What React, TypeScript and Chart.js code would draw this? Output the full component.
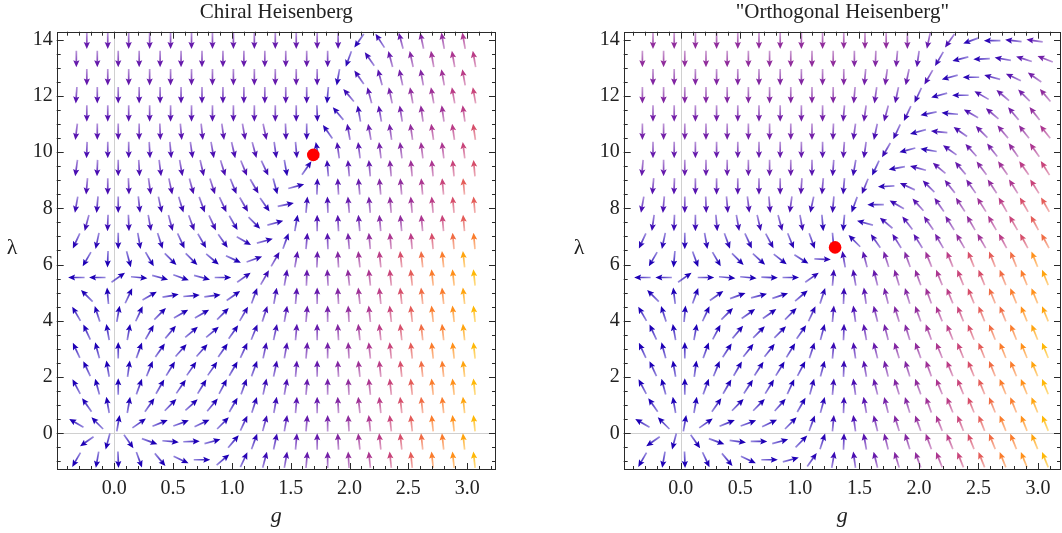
import { useEffect, useRef } from "react";
import { Chart, registerables } from "chart.js";

Chart.register(...registerables);

const SERIF = "'Liberation Serif', 'Times New Roman', Times, serif";

// ---- sample grid of the vector field (staggered rows) ----
const gGridA = [-0.233, -0.055, 0.123, 0.301, 0.479, 0.657, 0.835, 1.013, 1.191, 1.369, 1.547, 1.725, 1.903, 2.081, 2.259, 2.437, 2.615, 2.793, 2.971];
const gGridB = [-0.322, -0.144, 0.034, 0.212, 0.39, 0.568, 0.746, 0.924, 1.102, 1.28, 1.458, 1.636, 1.814, 1.992, 2.17, 2.348, 2.526, 2.704, 2.882, 3.06];
const lambdaRows = [13.96, 13.31, 12.66, 12.02, 11.37, 10.72, 10.07, 9.43, 8.78, 8.13, 7.48, 6.84, 6.19, 5.54, 4.89, 4.25, 3.6, 2.95, 2.3, 1.66, 1.01, 0.36, -0.29, -0.94];

// ---- axes ----
const gTicks = [0, 0.5, 1, 1.5, 2, 2.5, 3];
const gTickLabels = ["0.0", "0.5", "1.0", "1.5", "2.0", "2.5", "3.0"];
const lambdaTicks = [0, 2, 4, 6, 8, 10, 12, 14];
const lambdaTickLabels = ["0", "2", "4", "6", "8", "10", "12", "14"];
const lambdaRange = [-1.305, 14.28];
const chiralGRange = [-0.489, 3.245];
const orthoGRange = [-0.479, 3.193];

// ---- Chiral Heisenberg: arrow directions (deg, counter-clockwise from +g) ----
const chiralAngles: number[][] = [
  [270, 270, 270, 270, 270, 270, 270, 270, 270, 270, 270, 270, 270, 235, 123, 105, 102, 100, 100],
  [270, 270, 270, 270, 270, 270, 270, 270, 270, 270, 270, 270, 270, 250, 125, 105, 102, 100, 100, 100],
  [270, 270, 270, 270, 270, 270, 270, 270, 270, 270, 270, 270, 260, 125, 105, 102, 100, 100, 100],
  [266, 270, 270, 270, 270, 270, 270, 270, 270, 270, 270, 270, 265, 130, 105, 102, 100, 100, 100, 100],
  [270, 270, 270, 270, 270, 270, 270, 270, 270, 270, 270, 272, 130, 100, 100, 99, 98, 98, 98],
  [263, 270, 270, 270, 272, 275, 276, 278, 280, 282, 272, 270, 125, 100, 100, 98, 98, 98, 98, 98],
  [268, 270, 270, 273, 275, 278, 280, 283, 285, 278, 275, 100, 98, 97, 97, 97, 97, 97, 97],
  [262, 268, 270, 273, 277, 280, 283, 287, 292, 295, 280, 55, 95, 95, 95, 95, 95, 95, 95, 95],
  [265, 270, 272, 278, 282, 285, 288, 292, 300, 285, 15, 88, 93, 95, 95, 95, 95, 95, 95],
  [260, 265, 270, 276, 282, 287, 290, 295, 300, 305, 12, 85, 92, 95, 95, 95, 95, 95, 95, 95],
  [255, 268, 272, 280, 285, 290, 295, 300, 315, 15, 80, 90, 93, 95, 95, 95, 95, 95, 95],
  [245, 258, 270, 280, 288, 295, 300, 305, 330, 15, 70, 85, 92, 95, 95, 95, 95, 95, 95, 95],
  [240, 268, 285, 300, 315, 315, 320, 335, 20, 60, 80, 88, 93, 96, 96, 96, 96, 96, 96],
  [180, 180, 35, 355, 345, 340, 345, 0, 35, 60, 80, 88, 93, 96, 96, 96, 96, 96, 96, 96],
  [135, 95, 65, 30, 10, 5, 8, 35, 70, 80, 85, 90, 93, 96, 96, 96, 96, 96, 96],
  [120, 108, 80, 65, 45, 30, 30, 45, 60, 72, 80, 85, 90, 93, 96, 96, 96, 96, 96, 96],
  [115, 100, 80, 60, 50, 40, 40, 55, 68, 78, 85, 90, 93, 96, 96, 96, 96, 96, 96],
  [115, 105, 90, 70, 55, 48, 48, 55, 65, 78, 80, 85, 90, 93, 96, 96, 96, 96, 96, 96],
  [115, 100, 82, 68, 58, 55, 55, 60, 70, 78, 85, 90, 93, 96, 96, 96, 96, 96, 96],
  [118, 105, 90, 70, 60, 55, 58, 62, 70, 78, 80, 85, 90, 93, 96, 96, 96, 96, 96, 96],
  [125, 100, 80, 55, 45, 42, 50, 60, 72, 80, 85, 90, 93, 96, 96, 96, 96, 96, 96],
  [150, 135, 80, 35, 22, 20, 25, 45, 65, 75, 80, 85, 90, 93, 96, 96, 96, 96, 96, 96],
  [215, 255, 305, 340, 355, 2, 15, 50, 70, 78, 85, 90, 93, 96, 96, 96, 96, 96, 96],
  [240, 260, 272, 290, 310, 335, 0, 40, 65, 75, 80, 85, 90, 93, 96, 96, 96, 96, 96, 96],
];
// flow speed level per arrow (base-20 digit, 0 = slow ... j = fast)
const chiralSpeed: string[] = [
  "555555555555412578a",
  "555555555555412579ab",
  "555555555554124679b",
  "444444444443124689bc",
  "444444444432124689b",
  "44444444443213568abd",
  "33333333322134679ac",
  "33333333321124579acd",
  "3333333221124578ace",
  "22222222211235689bde",
  "2222222111134578ace",
  "111111111113468abdfg",
  "00000000124579bdfgi",
  "00000000123568aceghj",
  "00000000124579bdfgi",
  "00000000123568aceghj",
  "00000000124579bdfgi",
  "00000000123568aceghj",
  "00000000124579bdfgi",
  "00000000123568aceghj",
  "00000000124579bdfgi",
  "00000000123568aceghj",
  "00000000124579bdfgi",
  "00000000123568aceghj",
];
const chiralFixedPoint = { g: 1.692, lambda: 9.9 };

// ---- "Orthogonal Heisenberg" ----
const orthoAngles: number[][] = [
  [270, 270, 270, 270, 270, 270, 270, 270, 270, 270, 270, 270, 270, 258, 235, 200, 180, 174, 172],
  [270, 270, 270, 270, 270, 270, 270, 270, 270, 270, 270, 268, 265, 262, 240, 195, 182, 170, 162, 158],
  [270, 270, 270, 270, 270, 270, 270, 270, 270, 270, 265, 262, 258, 240, 195, 180, 165, 155, 145],
  [270, 270, 270, 270, 270, 270, 270, 270, 270, 270, 265, 262, 258, 245, 195, 180, 150, 140, 135, 130],
  [270, 270, 270, 270, 270, 270, 270, 270, 270, 265, 262, 255, 245, 192, 175, 150, 140, 130, 128],
  [270, 270, 270, 270, 270, 270, 270, 270, 270, 268, 262, 258, 245, 195, 175, 145, 135, 130, 128, 128],
  [270, 270, 270, 270, 270, 270, 270, 270, 270, 266, 262, 240, 195, 170, 145, 132, 128, 125, 125],
  [265, 270, 270, 270, 270, 270, 270, 270, 270, 266, 260, 245, 190, 165, 140, 130, 127, 125, 125, 122],
  [265, 268, 270, 270, 270, 270, 270, 266, 265, 265, 248, 183, 155, 135, 128, 125, 123, 122, 122],
  [260, 265, 270, 272, 275, 277, 275, 262, 258, 265, 250, 180, 150, 132, 125, 123, 122, 120, 120, 120],
  [262, 268, 270, 275, 280, 283, 285, 280, 275, 265, 165, 140, 128, 125, 122, 120, 120, 120, 118],
  [245, 258, 270, 280, 290, 295, 298, 292, 290, 275, 135, 125, 122, 122, 120, 120, 120, 118, 118, 118],
  [240, 265, 290, 300, 315, 318, 322, 328, 358, 100, 105, 108, 110, 112, 112, 112, 112, 112, 112],
  [180, 180, 35, 0, 355, 355, 358, 0, 35, 85, 100, 104, 107, 110, 112, 112, 112, 112, 112, 112],
  [135, 97, 70, 35, 20, 15, 18, 40, 72, 88, 98, 104, 107, 110, 112, 112, 112, 112, 112],
  [120, 108, 85, 65, 45, 35, 35, 45, 65, 85, 98, 104, 107, 110, 112, 112, 112, 112, 112, 112],
  [115, 100, 80, 62, 50, 45, 45, 55, 75, 88, 100, 104, 107, 110, 112, 112, 112, 112, 112],
  [115, 105, 90, 70, 57, 52, 52, 58, 72, 85, 98, 104, 107, 110, 112, 112, 112, 112, 112, 112],
  [115, 100, 82, 68, 60, 57, 58, 62, 75, 88, 100, 104, 107, 110, 112, 112, 112, 112, 112],
  [118, 105, 90, 70, 60, 57, 58, 65, 75, 85, 98, 104, 107, 110, 112, 112, 112, 112, 112, 112],
  [125, 100, 80, 55, 45, 45, 48, 60, 75, 88, 100, 104, 107, 110, 112, 112, 112, 112, 112],
  [150, 135, 80, 35, 22, 20, 25, 45, 70, 85, 98, 104, 107, 110, 112, 112, 112, 112, 112, 112],
  [215, 255, 305, 340, 352, 0, 15, 45, 72, 88, 100, 104, 107, 110, 112, 112, 112, 112, 112],
  [240, 260, 272, 295, 310, 335, 0, 15, 55, 80, 98, 104, 107, 110, 112, 112, 112, 112, 112, 112],
];
const orthoSpeed: string[] = [
  "8888888888887531124",
  "88888888887764211246",
  "7777777777665311246",
  "77777777776542113568",
  "6666666665542113568",
  "6666666665432123578a",
  "555555554432113568a",
  "555555554321124579bc",
  "44444444322123568ac",
  "33333333221124579bde",
  "2222222211123568ace",
  "11111111111234689bdf",
  "00000000124679bdefh",
  "00000000123578acdfgi",
  "00000000124679bdfgh",
  "00000000123578acefhi",
  "00000000124679bdfgi",
  "00000000123578aceghj",
  "00000000124679bdfgi",
  "00000000123578aceghj",
  "00000000124679bdfgi",
  "00000000123578aceghj",
  "00000000124679bdfgi",
  "00000000123578aceghj",
];
const orthoFixedPoint = { g: 1.296, lambda: 6.61 };

// colour scale for flow speed (slow blue -> purple -> red -> orange -> yellow)
const PALETTE = [
  "#1e00b6", "#2a06b6", "#3a0ab4", "#4a0eb2", "#5814b0", "#661aac", "#7420a8", "#8226a2", "#902c9c", "#9e3096",
  "#ac3690", "#ba3c86", "#c8447a", "#d64e6a", "#e45c58", "#f06c44", "#fa7c2c", "#ff901a", "#ffa40e", "#ffb808",
];

function rgba(hex: string, a: number) {
  const n = parseInt(hex.slice(1), 16);
  return `rgba(${(n >> 16) & 255},${(n >> 8) & 255},${n & 255},${a})`;
}

function fieldPoints(angles: number[][], speeds: string[]) {
  const pts: any[] = [];
  angles.forEach((row, r) => {
    const gs = r % 2 === 0 ? gGridA : gGridB;
    row.forEach((ang, k) => {
      pts.push({ x: gs[k], y: lambdaRows[r], angle: ang, level: parseInt(speeds[r][k], 20) });
    });
  });
  return pts;
}

function drawArrow(ctx: CanvasRenderingContext2D, cx: number, cy: number, deg: number, color: string) {
  const L = 16.5, hl = 7, hw = 3.1;
  const a = (deg * Math.PI) / 180;
  const ux = Math.cos(a), uy = -Math.sin(a);
  const tx = cx - (ux * L) / 2, ty = cy - (uy * L) / 2;
  const hx = cx + (ux * L) / 2, hy = cy + (uy * L) / 2;
  const bx = hx - ux * hl, by = hy - uy * hl;
  const grad = ctx.createLinearGradient(tx, ty, hx, hy);
  grad.addColorStop(0, rgba(color, 0.45));
  grad.addColorStop(1, rgba(color, 1));
  ctx.strokeStyle = grad;
  ctx.lineWidth = 1.7;
  ctx.lineCap = "butt";
  ctx.beginPath();
  ctx.moveTo(tx, ty);
  ctx.lineTo(bx + ux * 1.5, by + uy * 1.5);
  ctx.stroke();
  ctx.fillStyle = color;
  ctx.beginPath();
  ctx.moveTo(hx, hy);
  ctx.lineTo(bx - uy * hw, by + ux * hw);
  ctx.lineTo(bx + ux * 1.3, by + uy * 1.3);
  ctx.lineTo(bx + uy * hw, by - ux * hw);
  ctx.closePath();
  ctx.fill();
}

const arrowPlugin = {
  id: "flowArrows",
  afterDatasetDraw(chart: any, args: any) {
    const ds = chart.data.datasets[args.index];
    if (!ds.isField) return;
    const { ctx, chartArea: a } = chart;
    ctx.save();
    ctx.beginPath();
    ctx.rect(a.left, a.top, a.right - a.left, a.bottom - a.top);
    ctx.clip();
    args.meta.data.forEach((el: any, i: number) => {
      const d = ds.data[i];
      drawArrow(ctx, el.x, el.y, d.angle, PALETTE[d.level]);
    });
    ctx.restore();
  },
};

const framePlugin = {
  id: "mmaFrame",
  beforeDatasetsDraw(chart: any) {
    const { ctx, chartArea: a, scales } = chart;
    const x0 = Math.round(scales.x.getPixelForValue(0)) + 0.5;
    const y0 = Math.round(scales.y.getPixelForValue(0)) + 0.5;
    ctx.save();
    ctx.strokeStyle = "#d0d0d0";
    ctx.lineWidth = 1;
    ctx.beginPath();
    ctx.moveTo(x0, a.top);
    ctx.lineTo(x0, a.bottom);
    ctx.moveTo(a.left, y0);
    ctx.lineTo(a.right, y0);
    ctx.stroke();
    ctx.restore();
  },
  afterDraw(chart: any, _args: any, opts: any) {
    const { ctx, chartArea: a, scales } = chart;
    const xs = scales.x, ys = scales.y;
    ctx.save();
    ctx.strokeStyle = "#2a2a2a";
    ctx.lineWidth = 1;
    ctx.strokeRect(Math.round(a.left) + 0.5, Math.round(a.top) + 0.5, Math.round(a.right - a.left) - 1, Math.round(a.bottom - a.top) - 1);
    ctx.beginPath();
    for (let i = -4; i <= 32; i++) {
      const v = i / 10;
      if (v < xs.min || v > xs.max) continue;
      const len = i % 5 === 0 ? 7 : 4;
      const px = Math.round(xs.getPixelForValue(v)) + 0.5;
      ctx.moveTo(px, a.bottom);
      ctx.lineTo(px, a.bottom - len);
      ctx.moveTo(px, a.top);
      ctx.lineTo(px, a.top + len);
    }
    for (let i = -2; i <= 28; i++) {
      const v = i / 2;
      if (v < ys.min || v > ys.max) continue;
      const len = i % 4 === 0 ? 7 : 4;
      const py = Math.round(ys.getPixelForValue(v)) + 0.5;
      ctx.moveTo(a.left, py);
      ctx.lineTo(a.left + len, py);
      ctx.moveTo(a.right, py);
      ctx.lineTo(a.right - len, py);
    }
    ctx.stroke();
    ctx.fillStyle = "#222";
    ctx.textAlign = "center";
    ctx.textBaseline = "alphabetic";
    ctx.font = `italic 22px ${SERIF}`;
    ctx.fillText(opts.xLabel, (a.left + a.right) / 2, 522);
    ctx.font = `22px ${SERIF}`;
    ctx.fillText(opts.yLabel, a.left - 44.5, 254);
    ctx.restore();
  },
};

function makeChart(canvas: HTMLCanvasElement, p: any) {
  return new Chart(canvas, {
    type: "scatter",
    data: {
      datasets: [
        {
          label: "fixed point",
          data: [{ x: p.fp.g, y: p.fp.lambda }],
          pointRadius: 6.3,
          pointHoverRadius: 6.3,
          backgroundColor: "#ff0000",
          borderWidth: 0,
        },
        {
          label: "flow",
          data: fieldPoints(p.angles, p.speeds),
          pointRadius: 0,
          pointHoverRadius: 0,
          isField: true,
        } as any,
      ],
    },
    options: {
      animation: false,
      responsive: false,
      events: [],
      layout: { autoPadding: false, padding: { left: p.padLeft, right: p.padRight, top: 0, bottom: 0 } },
      plugins: {
        legend: { display: false },
        tooltip: { enabled: false },
        title: {
          display: true,
          text: p.title,
          fullSize: false,
          color: "#222",
          font: { family: SERIF, size: 21, weight: "normal", lineHeight: 1.2 },
          padding: { top: 0, bottom: 6.5 },
        },
        mmaFrame: { xLabel: "g", yLabel: "λ" },
      } as any,
      scales: {
        x: {
          type: "linear",
          min: p.gRange[0],
          max: p.gRange[1],
          grid: { display: false, drawTicks: false },
          border: { display: false },
          ticks: {
            color: "#222",
            font: { family: SERIF, size: 20 },
            padding: 7,
            maxRotation: 0,
            autoSkip: false,
            callback: (v: any) => {
              const i = gTicks.indexOf(v);
              return i >= 0 ? gTickLabels[i] : "";
            },
          },
          afterBuildTicks: (s: any) => {
            s.ticks = gTicks.map((v) => ({ value: v }));
          },
          afterFit: (s: any) => {
            s.height = 63;
            s.paddingLeft = 0;
            s.paddingRight = 0;
          },
        },
        y: {
          type: "linear",
          min: lambdaRange[0],
          max: lambdaRange[1],
          grid: { display: false, drawTicks: false },
          border: { display: false },
          ticks: {
            color: "#222",
            font: { family: SERIF, size: 20 },
            padding: 4,
            autoSkip: false,
            callback: (v: any) => {
              const i = lambdaTicks.indexOf(v);
              return i >= 0 ? lambdaTickLabels[i] : "";
            },
          },
          afterBuildTicks: (s: any) => {
            s.ticks = lambdaTicks.map((v) => ({ value: v }));
          },
          afterFit: (s: any) => {
            s.width = 56.7;
            s.paddingTop = 0;
            s.paddingBottom = 0;
          },
        },
      } as any,
    },
    plugins: [framePlugin, arrowPlugin],
  } as any);
}

export default function App() {
  const leftRef = useRef<HTMLCanvasElement>(null);
  const rightRef = useRef<HTMLCanvasElement>(null);

  useEffect(() => {
    const c1 = makeChart(leftRef.current as HTMLCanvasElement, {
      title: "Chiral Heisenberg",
      angles: chiralAngles,
      speeds: chiralSpeed,
      fp: chiralFixedPoint,
      gRange: chiralGRange,
      padLeft: 0,
      padRight: 35,
    });
    const c2 = makeChart(rightRef.current as HTMLCanvasElement, {
      title: "\"Orthogonal Heisenberg\"",
      angles: orthoAngles,
      speeds: orthoSpeed,
      fp: orthoFixedPoint,
      gRange: orthoGRange,
      padLeft: 36,
      padRight: 1,
    });
    return () => {
      c1.destroy();
      c2.destroy();
    };
  }, []);

  return (
    <div style={{ position: "fixed", left: 0, top: 0, width: 1062, height: 533, background: "#fff" }}>
      <canvas ref={leftRef} width={531} height={533} style={{ position: "absolute", left: 0, top: 0, width: 531, height: 533 }} />
      <canvas ref={rightRef} width={531} height={533} style={{ position: "absolute", left: 531, top: 0, width: 531, height: 533 }} />
    </div>
  );
}
